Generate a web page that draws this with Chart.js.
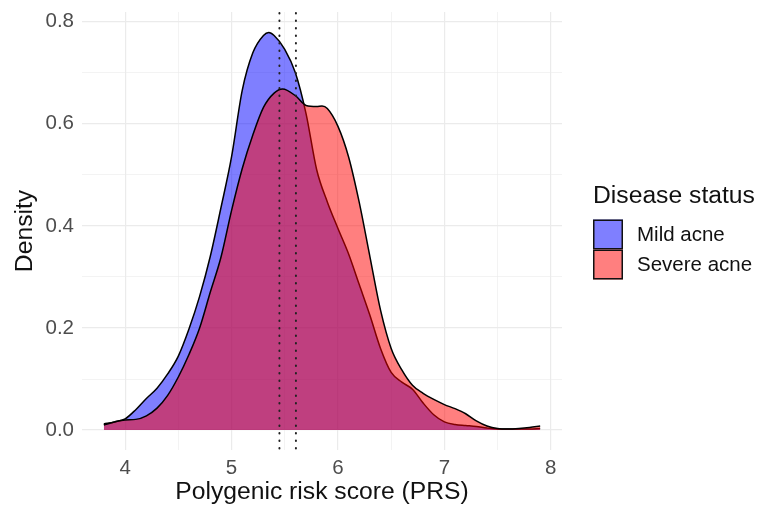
<!DOCTYPE html>
<html>
<head>
<meta charset="utf-8">
<script src="https://cdn.jsdelivr.net/npm/chart.js@4.4.1/dist/chart.umd.min.js"></script>
<style>
  html, body { margin: 0; padding: 0; background: #fff; }
</style>
</head>
<body>
<canvas id="density" width="760" height="508"></canvas>
<script>
// density curves
const mildX = [3.8, 3.9, 4.0, 4.1, 4.2, 4.3, 4.4, 4.5, 4.6, 4.7, 4.8, 4.9, 5.0, 5.1, 5.2, 5.3, 5.35,
  5.4, 5.5, 5.6, 5.7, 5.8, 5.9, 6.0, 6.1, 6.2, 6.3, 6.4, 6.5, 6.6, 6.7, 6.8, 6.9, 7.0, 7.1, 7.2, 7.3,
  7.4, 7.5, 7.6, 7.7, 7.8, 7.9];
const mildY = [0.012, 0.016, 0.022, 0.040, 0.062, 0.082, 0.110, 0.145, 0.198, 0.262, 0.340, 0.435, 0.535, 0.665, 0.739, 0.773, 0.779,
  0.773, 0.746, 0.700, 0.620, 0.510, 0.447, 0.395, 0.345, 0.285, 0.225, 0.160, 0.113, 0.094, 0.080, 0.053, 0.030, 0.016, 0.011, 0.009, 0.007,
  0.004, 0.002, 0.002, 0.002, 0.002, 0.003];

const severeX = [3.8, 3.9, 4.0, 4.1, 4.2, 4.3, 4.4, 4.5, 4.6, 4.7, 4.8, 4.9, 5.0, 5.1, 5.2, 5.3, 5.4, 5.48,
  5.6, 5.7, 5.8, 5.85, 5.9, 6.0, 6.1, 6.2, 6.3, 6.4, 6.5, 6.6, 6.7, 6.8, 6.9, 7.0, 7.1, 7.2, 7.3,
  7.4, 7.5, 7.6, 7.7, 7.8, 7.9];
const severeY = [0.010, 0.016, 0.020, 0.021, 0.028, 0.043, 0.068, 0.104, 0.148, 0.200, 0.270, 0.338, 0.430, 0.512, 0.578, 0.632, 0.660, 0.668,
  0.655, 0.636, 0.634, 0.635, 0.630, 0.595, 0.535, 0.446, 0.340, 0.235, 0.160, 0.118, 0.088, 0.072, 0.060, 0.050, 0.042, 0.032, 0.018,
  0.008, 0.003, 0.002, 0.003, 0.005, 0.008];

// group means (dotted lines)
const meanPRS = [5.45, 5.605];

const groups = ["Mild acne", "Severe acne"];
const xMajor = [4, 5, 6, 7, 8];
const xMinor = [4.5, 5.5, 6.5, 7.5];
const yMajor = [0, 0.2, 0.4, 0.6, 0.8];
const yMinor = [0.1, 0.3, 0.5, 0.7];
const yTickLabels = ["0.0", "0.2", "0.4", "0.6", "0.8"];

const mildFill = "rgba(0, 0, 255, 0.5)";
const severeFill = "rgba(255, 0, 0, 0.5)";
const FONT = "'Liberation Sans', Arial, sans-serif";

Chart.defaults.font.family = FONT;

const toPoints = (xs, ys) => xs.map((x, i) => ({ x: x, y: ys[i] }));
const gridWidth = (majors) => (ctx) => (majors.includes(ctx.tick.value) ? 1.2 : 0.6);

// dotted vertical lines at the group means
const meanLines = {
  id: "meanLines",
  afterDatasetsDraw(chart) {
    const { ctx, chartArea } = chart;
    const xs = chart.scales.x;
    ctx.save();
    ctx.strokeStyle = "#222";
    ctx.lineWidth = 2;
    ctx.lineCap = "round";
    ctx.setLineDash([0.5, 7]);
    meanPRS.forEach((m) => {
      const px = xs.getPixelForValue(m);
      ctx.beginPath();
      ctx.moveTo(px, chartArea.top + 1);
      ctx.lineTo(px, chartArea.bottom);
      ctx.stroke();
    });
    ctx.restore();
  },
};

// ggplot-style legend on the right
const statusLegend = {
  id: "statusLegend",
  afterDraw(chart) {
    const { ctx, chartArea } = chart;
    const x0 = chartArea.right + 31;
    ctx.save();
    ctx.fillStyle = "#111";
    ctx.textBaseline = "middle";
    ctx.font = "24.7px " + FONT;
    ctx.fillText("Disease status", x0, 196);
    const fills = [mildFill, severeFill];
    groups.forEach((g, i) => {
      const top = 219.5 + i * 30;
      ctx.fillStyle = "#fff";
      ctx.fillRect(x0, top, 30, 30);
      ctx.fillStyle = fills[i];
      ctx.fillRect(x0, top, 30, 30);
      ctx.strokeStyle = "#111";
      ctx.lineWidth = 1.5;
      ctx.strokeRect(x0 + 0.75, top + 0.75, 28.5, 28.5);
      ctx.fillStyle = "#111";
      ctx.font = "20.5px " + FONT;
      ctx.fillText(g, x0 + 44, top + 15.5);
    });
    ctx.restore();
  },
};

new Chart(document.getElementById("density"), {
  type: "line",
  data: {
    datasets: [
      {
        label: groups[0],
        data: toPoints(mildX, mildY),
        backgroundColor: mildFill,
        borderColor: "#000",
        borderWidth: 1.5,
        fill: "origin",
        order: 2,
      },
      {
        label: groups[1],
        data: toPoints(severeX, severeY),
        backgroundColor: severeFill,
        borderColor: "#000",
        borderWidth: 1.5,
        fill: "origin",
        order: 1,
      },
    ],
  },
  options: {
    responsive: false,
    animation: false,
    devicePixelRatio: 1,
    cubicInterpolationMode: "monotone",
    elements: { point: { radius: 0 } },
    layout: { padding: { top: 12, right: 198, left: 0, bottom: 0 } },
    plugins: {
      legend: { display: false },
      tooltip: { enabled: false },
    },
    scales: {
      x: {
        type: "linear",
        min: 3.595,
        max: 8.105,
        afterBuildTicks: (s) => {
          s.ticks = [...xMajor, ...xMinor].sort((a, b) => a - b).map((v) => ({ value: v }));
        },
        afterFit: (s) => {
          s.height = 58;
          s.paddingLeft = 0;
          s.paddingRight = 0;
        },
        border: { display: false },
        grid: { color: "#ebebeb", lineWidth: gridWidth(xMajor), drawTicks: false },
        ticks: {
          autoSkip: false,
          maxRotation: 0,
          padding: 6,
          color: "#4d4d4d",
          font: { size: 20.5 },
          callback: (v) => (xMajor.includes(v) ? String(v) : ""),
        },
        title: {
          display: true,
          text: "Polygenic risk score (PRS)",
          color: "#111",
          font: { size: 24.7 },
          padding: { top: 0, bottom: 1 },
        },
      },
      y: {
        min: -0.039,
        max: 0.819,
        afterBuildTicks: (s) => {
          s.ticks = [...yMajor, ...yMinor].sort((a, b) => a - b).map((v) => ({ value: v }));
        },
        afterFit: (s) => {
          s.width = 82;
          s.paddingTop = 0;
          s.paddingBottom = 0;
        },
        border: { display: false },
        grid: { color: "#ebebeb", lineWidth: gridWidth(yMajor), drawTicks: false },
        ticks: {
          padding: 8,
          color: "#4d4d4d",
          font: { size: 20.5 },
          callback: (v) => {
            const i = yMajor.findIndex((m) => Math.abs(m - v) < 1e-9);
            return i >= 0 ? yTickLabels[i] : "";
          },
        },
        title: {
          display: true,
          text: "Density",
          color: "#111",
          font: { size: 24.7 },
          padding: { top: 10, bottom: 0 },
        },
      },
    },
  },
  plugins: [meanLines, statusLegend],
});
</script>
</body>
</html>
